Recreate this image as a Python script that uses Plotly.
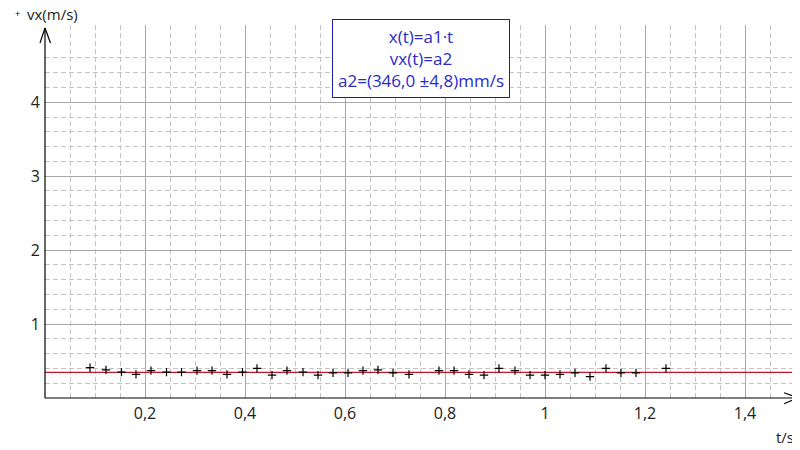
import plotly.graph_objects as go

t_s = [0.090, 0.122, 0.153, 0.182, 0.212, 0.243, 0.273, 0.304, 0.334, 0.364,
       0.395, 0.424, 0.454, 0.484, 0.516, 0.546, 0.576, 0.606, 0.636, 0.666,
       0.696, 0.728, 0.788, 0.818, 0.848, 0.878, 0.908, 0.940, 0.970, 1.000,
       1.030, 1.060, 1.090, 1.122, 1.152, 1.182, 1.242]
vx = [0.41, 0.38, 0.35, 0.32, 0.37, 0.35, 0.35, 0.37, 0.37, 0.32,
      0.35, 0.40, 0.31, 0.37, 0.35, 0.31, 0.34, 0.34, 0.37, 0.38,
      0.34, 0.32, 0.37, 0.37, 0.32, 0.31, 0.40, 0.37, 0.31, 0.31,
      0.32, 0.34, 0.29, 0.40, 0.34, 0.34, 0.40]

# fit result vx(t)=a2
a2 = 0.346
fit_t = [0.0, 1.5]

x_ticks = [0.2, 0.4, 0.6, 0.8, 1.0, 1.2, 1.4]
x_labels = ["0,2", "0,4", "0,6", "0,8", "1", "1,2", "1,4"]
y_ticks = [1, 2, 3, 4]
y_labels = ["1", "2", "3", "4"]
y_minor = [round(0.2 * i, 1) for i in range(1, 24)]

fit_text = "x(t)=a1·t<br>vx(t)=a2<br>a2=(346,0 ±4,8)mm/s"

# screen geometry (pixels); the page body adds an 8px offset
OFF = 8
W, H = 800, 450
X0, X1, Y0, Y1 = 45, 793, 398.3, 25   # plot area on screen
L, R = X0 - OFF, W - (X1 - OFF)
T, B = Y1 - OFF, H - (Y0 - OFF)
pw, ph = X1 - X0, Y0 - Y1


def px(x):
    return (x - X0) / pw


def py(y):
    return (Y0 - y) / ph


FONT = "Open Sans, Noto Sans, sans-serif"
major_grid = "#a8a8a8"
minor_grid = "#c4c4c4"

fig = go.Figure()
fig.add_trace(go.Scatter(x=fit_t, y=[a2, a2], mode="lines",
                         line=dict(color="#c0182a", width=1.3),
                         hoverinfo="skip"))
fig.add_trace(go.Scatter(x=t_s, y=vx, mode="markers", name="vx(m/s)",
                         marker=dict(symbol="cross-thin", size=6,
                                     line=dict(color="black", width=1.2))))

# axis arrows (open chevrons like the original)
arrow = dict(type="line", xref="paper", yref="paper",
             line=dict(color="black", width=1.2))
shapes = [
    dict(arrow, x0=px(X0), y0=py(Y0), x1=px(X0), y1=py(28)),
    dict(arrow, x0=px(X0), y0=py(28), x1=px(40), y1=py(43)),
    dict(arrow, x0=px(X0), y0=py(28), x1=px(50.5), y1=py(43)),
    dict(arrow, x0=px(X0), y0=py(Y0), x1=px(798), y1=py(Y0)),
    dict(arrow, x0=px(798), y0=py(Y0), x1=px(784), y1=py(393)),
    dict(arrow, x0=px(798), y0=py(Y0), x1=px(784), y1=py(404)),
]

annotations = [
    dict(text=fit_text, x=0.751, y=py(59), xref="x", yref="paper",
         yanchor="middle", showarrow=False, align="center",
         font=dict(family=FONT, size=17, color="#2a2ac8"),
         bgcolor="white", bordercolor="#1c1ca8", borderwidth=1, borderpad=5),
    dict(text="+", x=px(13), y=py(13), xref="paper", yref="paper",
         yanchor="middle", showarrow=False,
         font=dict(family=FONT, size=9, color="black")),
    dict(text="vx(m/s)", x=px(25), y=py(14), xref="paper", yref="paper",
         xanchor="left", yanchor="middle", showarrow=False,
         font=dict(family=FONT, size=15, color="#222")),
    dict(text="t/s", x=px(796), y=py(437), xref="paper", yref="paper",
         xanchor="right", yanchor="middle", showarrow=False,
         font=dict(family=FONT, size=15, color="#222")),
]

fig.update_layout(
    width=W, height=H,
    margin=dict(l=L, r=R, t=T, b=B, autoexpand=False),
    paper_bgcolor="white", plot_bgcolor="white",
    showlegend=False,
    font=dict(family=FONT, size=16, color="#222"),
    shapes=shapes, annotations=annotations,
    xaxis=dict(range=[0, pw / 500], tickmode="array", tickvals=x_ticks,
               ticktext=x_labels, showgrid=True, gridcolor=major_grid,
               gridwidth=1, zeroline=False, showline=False, ticks="",
               ticklabelstandoff=4, automargin=False,
               minor=dict(tickmode="linear", tick0=0, dtick=0.05,
                          showgrid=True, gridcolor=minor_grid,
                          griddash="5px,3px", gridwidth=1)),
    yaxis=dict(range=[0, ph / 74], tickmode="array", tickvals=y_ticks,
               ticktext=y_labels, showgrid=True, gridcolor=major_grid,
               gridwidth=1, zeroline=False, showline=False, ticks="",
               ticklabelstandoff=4, automargin=False,
               minor=dict(tickmode="array", tickvals=y_minor,
                          showgrid=True, gridcolor=minor_grid,
                          griddash="5px,3px", gridwidth=1)),
)

fig.write_html("out.html")
